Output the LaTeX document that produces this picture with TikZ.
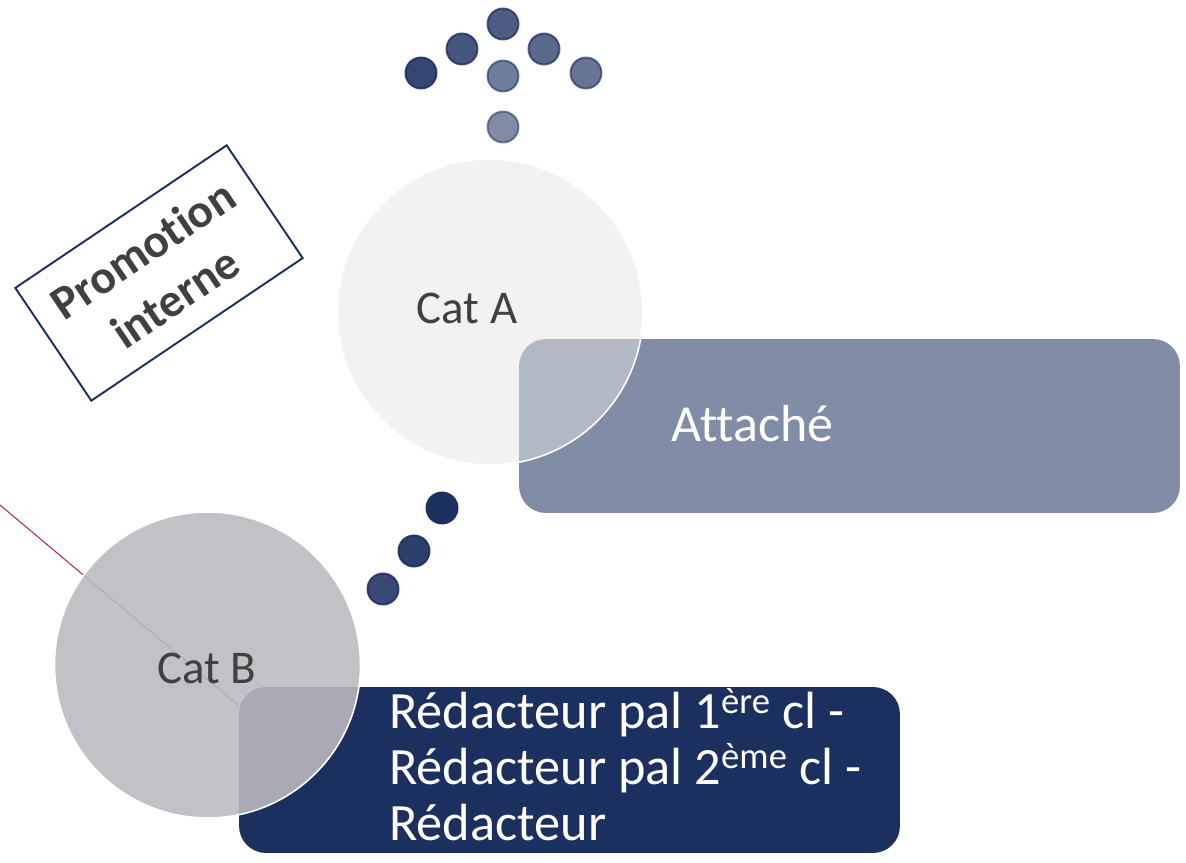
\documentclass[tikz,border=0pt]{standalone}
\usepackage{fontspec}
\setmainfont{Carlito}[Ligatures=NoCommon]
\usetikzlibrary{positioning}

\definecolor{navy}{RGB}{28,48,96}
\definecolor{slate}{RGB}{129,140,166}
\definecolor{cataGray}{RGB}{229,229,229}
\definecolor{catbGray}{RGB}{186,185,191}
\definecolor{textGray}{RGB}{64,64,64}
\definecolor{rose}{RGB}{180,40,90}

\begin{document}
\begin{tikzpicture}[x=0.02cm,y=-0.02cm]
\tikzstyle{bead}=[circle,fill=navy,draw=navy,line width=1.1pt,minimum size=0.62cm,inner sep=0pt]
\tikzstyle{catcircle}=[circle,draw=white,line width=0.9pt,minimum size=6.12cm,inner sep=0pt]
\tikzstyle{gradebox}=[rectangle,rounded corners=0.54cm,minimum width=13.22cm,inner sep=0pt]
\tikzstyle{catlabel}=[inner sep=0pt,text=textGray,font=\fontsize{26.7pt}{30pt}\selectfont]
\useasboundingbox (0,0) rectangle (1186,862);

% line behind the lower circle
\coordinate (lineStart) at (0,505);
\coordinate (lineEnd) at (238,705);
\draw [rose,line width=0.6pt] (lineStart) -- (lineEnd);

% Cat B and its grades
\node (gradeB) [gradebox,fill=navy,minimum height=3.32cm] at (569.5,770) {};
\node (catB) [catcircle,fill=catbGray,fill opacity=0.89] at (207.5,665) {};
\node (catBlabel) [catlabel] at (206.5,668) {Cat B};
\node (gradeBtext) [anchor=base west,align=left,inner sep=0pt,text=white,
  font=\fontsize{29.8pt}{31.6pt}\selectfont] at (389,840)
  {Rédacteur pal 1\textsuperscript{ère} cl -\\Rédacteur pal 2\textsuperscript{ème} cl -\\Rédacteur};

% Cat A and its grade
\node (gradeA) [gradebox,fill=slate,minimum height=3.48cm] at (849.5,426) {};
\node (catA) [catcircle,fill=cataGray,fill opacity=0.5] at (490,312) {};
\node (catAlabel) [catlabel] at (467,308) {Cat A};
\node (gradeAtext) [anchor=base west,inner sep=0pt,text=white,
  font=\fontsize{29.6pt}{33pt}\selectfont] at (671,441) {Attaché};

% arrow of dots
\foreach \x/\y/\o [count=\i] in {421/73/0.89, 462/49/0.82, 503/24/0.79, 544/49/0.73,
  586/73/0.67, 503/76/0.63, 503/127/0.56}
  \node (up\i) [bead,opacity=\o] at (\x,\y) {};
\foreach \x/\y/\o [count=\i] in {442/508/1, 414/551/0.93, 383/589/0.88}
  \node (down\i) [bead,opacity=\o] at (\x,\y) {};

% tilted label
\node (promo) [draw=navy,line width=1.1pt,rotate=34,minimum width=5.1cm,minimum height=2.72cm,
  align=center,text=textGray,font=\bfseries\fontsize{27pt}{33pt}\selectfont]
  at (159,273) {Promotion\\interne};
\end{tikzpicture}
\end{document}
